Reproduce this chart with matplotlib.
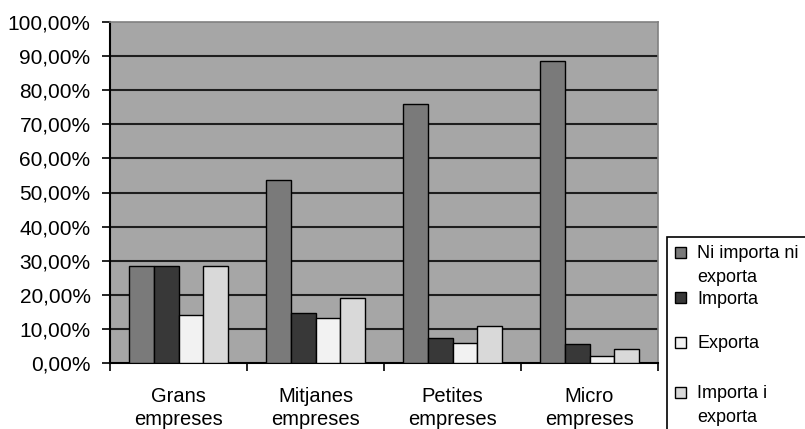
import matplotlib

matplotlib.use("Agg")
import matplotlib.pyplot as plt
import numpy as np
from matplotlib.patches import Rectangle
from matplotlib.ticker import FuncFormatter

categories = ["Grans\nempreses", "Mitjanes\nempreses", "Petites\nempreses", "Micro\nempreses"]
series_names = ["Ni importa ni\nexporta", "Importa", "Exporta", "Importa i\nexporta"]
ni_importa_ni_exporta = [28.5, 53.8, 75.9, 88.6]
importa = [28.5, 14.6, 7.2, 5.6]
exporta = [14.2, 13.1, 6.0, 2.1]
importa_i_exporta = [28.5, 19.0, 10.8, 4.1]

series = [ni_importa_ni_exporta, importa, exporta, importa_i_exporta]
colors = ["#7a7a7a", "#383838", "#f2f2f2", "#d9d9d9"]

plt.rcParams["font.family"] = ["Liberation Sans", "DejaVu Sans"]

W, H = 805, 429
fig = plt.figure(figsize=(W / 100, H / 100), dpi=100)
# plot area in pixels: left 110, right 658, top 22, bottom 363
ax = fig.add_axes([110 / W, 1 - 363 / H, 548 / W, 341 / H])
ax.set_facecolor("#a6a6a6")

x = np.arange(len(categories))
bw = 0.182
for i, (vals, col) in enumerate(zip(series, colors)):
    ax.bar(x + (i - 1.5) * bw, vals, bw, color=col, edgecolor="black", lw=1, zorder=3)

ax.set_xlim(-0.5, len(categories) - 0.5)
ax.set_ylim(0, 100)
ax.set_yticks(np.arange(0, 101, 10))
ax.yaxis.set_major_formatter(FuncFormatter(lambda v, _: f"{v:.2f}%".replace(".", ",")))
for yv in range(10, 100, 10):
    ax.axhline(yv, color="#1e1e1e", lw=1.5, zorder=1)

ax.set_xticks(np.arange(-0.5, len(categories), 1.0))
ax.set_xticklabels([])
ax.set_xticks(x, minor=True)
ax.set_xticklabels(categories, minor=True, fontsize=14.5, linespacing=1.3)
ax.tick_params(axis="x", which="minor", length=0, pad=17)
ax.tick_params(axis="x", which="major", length=6, width=1.2, color="black")
ax.tick_params(axis="y", length=6, width=1.2, pad=8, labelsize=15)

for side in ["top", "right"]:
    ax.spines[side].set_color("#808080")
    ax.spines[side].set_linewidth(1.2)
for side in ["left", "bottom"]:
    ax.spines[side].set_color("black")
    ax.spines[side].set_linewidth(1.5)


def px(xp, yp):
    return xp / W, 1 - yp / H


# hand-built legend box, clipped by the figure edge like the original
box = Rectangle(px(667, 440), (W - 667 + 10) / W, (440 - 237) / H,
                transform=fig.transFigure, facecolor="white", edgecolor="black", lw=1.2)
fig.add_artist(box)
marker_y = [252, 297, 342, 392]
for name, col, my in zip(series_names, colors, marker_y):
    fig.add_artist(Rectangle(px(675, my + 5.5), 11 / W, 11 / H, transform=fig.transFigure,
                             facecolor=col, edgecolor="black", lw=1))
    for k, line in enumerate(name.split("\n")):
        fx, fy = px(697, my + 6.5 + 23 * k)
        fig.text(fx, fy, line, fontsize=13, va="baseline", ha="left")

fig.savefig("out.png", dpi=100)
